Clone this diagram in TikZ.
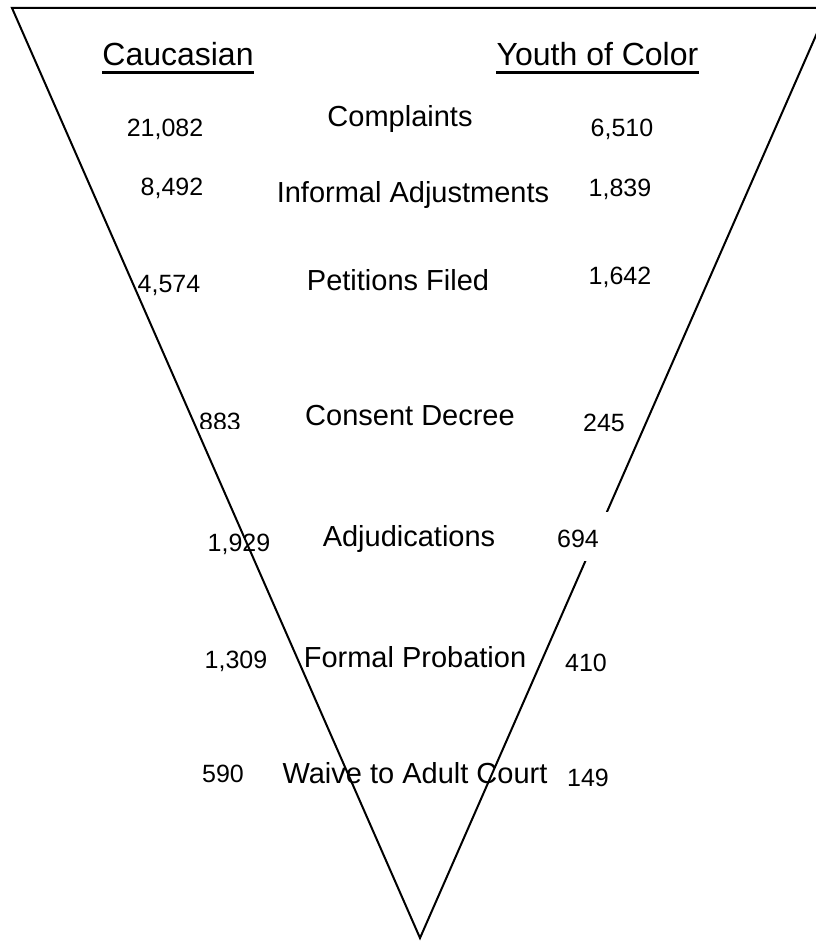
\documentclass[tikz,border=0pt]{standalone}
\usepackage{fontspec}
\setmainfont{Liberation Sans}
\begin{document}
\begin{tikzpicture}[x=0.75pt, y=-0.75pt,
        head/.style={font=\fontsize{24}{28}\selectfont, anchor=base, inner sep=0pt},
        stage/.style={font=\fontsize{21.75}{26}\selectfont, anchor=base, inner sep=0pt},
        count/.style={font=\fontsize{18.75}{22}\selectfont, anchor=base, inner sep=0pt}]
            \clip (0,0) rectangle (816,941);
            \draw[line width=1.5pt] (12,8) -- (828,8) -- (420,938) -- cycle;
            \fill[white] (548,512) rectangle (608,561);

            \node[head] (cauc) at (178,66) {Caucasian};
            \node[head] (yoc) at (597.5,66) {Youth of Color};
            \draw[line width=2.2pt] ([yshift=-4.5pt]cauc.south west) -- ([yshift=-4.5pt]cauc.south east);
            \draw[line width=2.2pt] ([yshift=-4.5pt]yoc.south west) -- ([yshift=-4.5pt]yoc.south east);

            \node[count] (c1) at (165,137) {21,082};
            \node[stage] (s1) at (400,127) {Complaints};
            \node[count] (y1) at (622,137) {6,510};

            \node[count] (c2) at (172,196) {8,492};
            \node[stage] (s2) at (413,203) {Informal Adjustments};
            \node[count] (y2) at (620,197) {1,839};

            \node[count] (c3) at (169,292) {4,574};
            \node[stage] (s3) at (398,290) {Petitions Filed};
            \node[count] (y3) at (620,284) {1,642};

            \begin{scope}
                \clip (180,400) rectangle (260,428);
                \node[count] (c4) at (220,430) {883};
            \end{scope}
            \node[stage] (s4) at (410,425) {Consent Decree};
            \node[count] (y4) at (604,431) {245};

            \node[count] (c5) at (239,551) {1,929};
            \node[stage] (s5) at (409,546) {Adjudications};
            \node[count] (y5) at (578,547) {694};

            \node[count] (c6) at (236,668) {1,309};
            \node[stage] (s6) at (415,667) {Formal Probation};
            \node[count] (y6) at (586,671) {410};

            \node[count] (c7) at (223,782) {590};
            \node[stage] (s7) at (415,783) {Waive to Adult Court};
            \node[count] (y7) at (588,786) {149};
        \end{tikzpicture}
\end{document}
